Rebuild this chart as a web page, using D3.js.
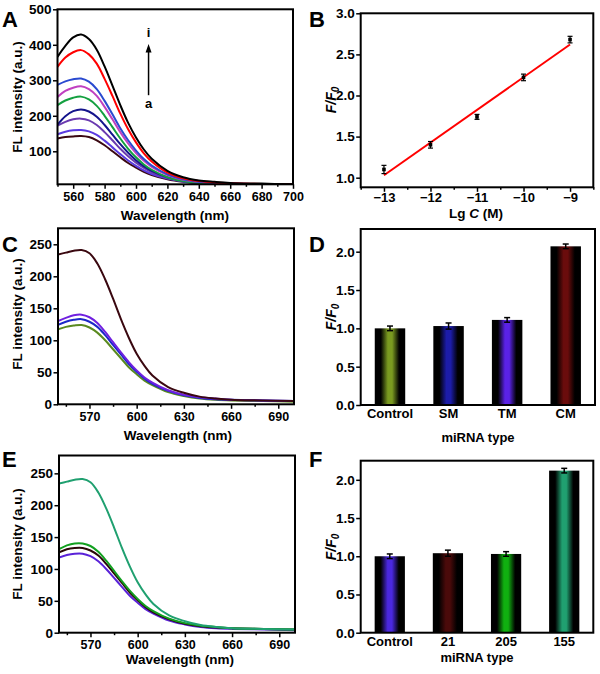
<!DOCTYPE html>
<html><head><meta charset="utf-8">
<script src="https://cdn.jsdelivr.net/npm/d3@7"></script>
<style>
body{margin:0;background:#fff}
svg{display:block}
text{font-family:"Liberation Sans",Arial,Helvetica,sans-serif;font-weight:bold;fill:#000}
</style>
</head><body>
<svg id="chart" width="600" height="674"></svg>
<script>
// ---------- DATA ----------
const wavelengths = [550,555,560,565,570,575,580,585,590,595,600,605,610,620,630,640,650,660,680,700];

// Panel A (a -> i)
const specA_a = [136,140,142,143,140,131,117,100,83,67,54,42,33,21,14,10,8,7,6,6];
const specA_b = [148,155,159,160,156,146,130,111,92,74,59,46,36,23,15,11,9,8,7,6];
const specA_c = [172,183,190,192,187,174,154,131,107,86,68,53,41,25,16,11,9,8,7,6];
const specA_d = [175,199,213,218,212,197,174,147,120,96,75,58,45,27,17,12,10,8,7,6];
const specA_e = [230,243,251,254,246,228,200,168,136,107,83,63,48,27,16,10,8,7,6,5];
const specA_f = [253,270,279,283,275,256,225,190,154,122,95,73,56,33,20,14,11,9,7,6];
const specA_g = [287,297,303,305,296,275,242,204,165,131,102,78,60,35,21,14,11,9,7,6];
const specA_h = [338,364,379,385,373,347,304,256,206,162,125,94,71,40,24,16,12,10,8,7];
const specA_i = [366,397,421,429,416,386,339,285,230,180,139,105,79,45,27,18,14,11,9,7];
const specA_names = ["a","b","c","d","e","f","g","h","i"];

// Panel B
const lgC = [-13,-12,-11,-10,-9];
const ratioB = [1.10,1.40,1.74,2.22,2.68];
const errB = [0.05,0.04,0.03,0.04,0.04];
const fitB = [1.03,2.62]; // fit values at -13 and -9

// Panel C
const specC_control = [117,121,123,124,120,112,100,86,72,58,47,37,30,19,13,9,7,6,5,4];
const specC_SM = [124,129,132,133,129,121,108,93,78,63,51,40,32,21,14,10,8,7,6,5];
const specC_TM = [130,135,139,140,136,127,113,97,81,66,53,42,34,22,15,11,9,7,6,5];
const specC_CM = [234,237,240,241,236,220,195,165,133,104,79,60,45,27,18,12,9,7,6,5];

// Panel D
const catD = ["Control","SM","TM","CM"];
const valD = [1.00,1.03,1.11,2.07];
const errD = [0.03,0.04,0.03,0.03];

// Panel E
const specE_control = [118,122,124,124,120,112,100,86,72,58,47,37,30,19,13,9,7,6,5,4];
const specE_21 = [126,131,133,133,129,121,108,93,78,63,51,40,32,21,14,10,8,7,6,5];
const specE_205 = [131,137,140,140,136,127,113,97,81,66,53,42,34,22,15,11,9,7,6,5];
const specE_155 = [234,237,240,241,236,220,195,165,133,104,79,60,45,27,18,12,9,7,6,5];

// Panel F
const catF = ["Control","21","205","155"];
const valF = [1.00,1.04,1.03,2.12];
const errF = [0.03,0.04,0.03,0.03];

// ---------- DRAW ----------
const svg = d3.select("#chart");
const defs = svg.append("defs");

function frame(g, b){
  g.append("rect").attr("x",b.x0).attr("y",b.y0).attr("width",b.x1-b.x0).attr("height",b.y1-b.y0)
    .attr("fill","none").attr("stroke","#000").attr("stroke-width",2);
}
function leftAxis(g, y, b, major, minor, fmt, fs){
  const ax = g.append("g").attr("transform",`translate(${b.x0},0)`);
  ax.call(d3.axisLeft(y).tickValues(minor).tickSize(2.5).tickFormat(""));
  ax.call(d3.axisLeft(y).tickValues(major).tickSize(4.5).tickPadding(1.5).tickFormat(fmt));
  ax.selectAll("path.domain").remove();
  ax.selectAll("line").attr("stroke-width",1.5);
  ax.selectAll("text").style("font-size",fs+"px");
}
function bottomAxis(g, x, b, major, minor, fmt, fs, pad){
  const a1 = g.append("g").attr("transform",`translate(0,${b.y1})`);
  const ax = g.append("g").attr("transform",`translate(0,${b.y1})`);
  a1.call(d3.axisBottom(x).tickValues(minor).tickSize(2.5).tickFormat(""));
  ax.call(d3.axisBottom(x).tickValues(major).tickSize(4.5).tickPadding(pad).tickFormat(fmt));
  [ax,a1].forEach(a=>{a.selectAll("path.domain").remove(); a.selectAll("line").attr("stroke-width",1.5);});
  ax.selectAll("text").style("font-size",fs+"px");
}
function panelLetter(t, x, y){
  svg.append("text").attr("x",x).attr("y",y).style("font-size","22px").text(t);
}
function yTitle(g, x, yc, t){
  g.append("text").attr("transform",`translate(${x},${yc}) rotate(-90)`).attr("text-anchor","middle")
    .style("font-size","13.5px").text(t);
}
function yTitleFF(g, x, yc){
  const t = g.append("text").attr("transform",`translate(${x},${yc}) rotate(-90)`).attr("text-anchor","middle")
    .style("font-size","14px").style("font-style","italic");
  t.append("tspan").text("F/F");
  t.append("tspan").attr("dy",3).style("font-size","10px").text("0");
}
function xTitle(g, xc, y, t, fs){
  g.append("text").attr("x",xc).attr("y",y).attr("text-anchor","middle").style("font-size",(fs||13.5)+"px").text(t);
}

let clipId = 0;
function spectrum(b, yDom, xMajor, xMinor, yMajor, yMinor, series, colors){
  const g = svg.append("g");
  const x = d3.scaleLinear().domain([550,700]).range([b.x0,b.x1]);
  const y = d3.scaleLinear().domain(yDom).range([b.y1,b.y0]);
  const id = "clip"+(clipId++);
  defs.append("clipPath").attr("id",id).append("rect")
    .attr("x",b.x0).attr("y",b.y0).attr("width",b.x1-b.x0).attr("height",b.y1-b.y0);
  const line = d3.line().x((d,i)=>x(wavelengths[i])).y(d=>y(d)).curve(d3.curveCatmullRom.alpha(0.5));
  const cg = g.append("g").attr("clip-path",`url(#${id})`);
  series.forEach((s,i)=>{
    cg.append("path").attr("d",line(s)).attr("fill","none").attr("stroke",colors[i]).attr("stroke-width",2);
  });
  leftAxis(g,y,b,yMajor,yMinor,d3.format("d"),13.5);
  bottomAxis(g,x,b,xMajor,xMinor,d3.format("d"),12.5,3);
  frame(g,b);
  return {g,x,y};
}

function barPanel(b, yMax, cats, vals, errs, colors, key){
  const g = svg.append("g");
  const x = d3.scaleBand().domain(cats).range([b.x0,b.x1]).paddingInner(0.48).paddingOuter(0.24);
  const y = d3.scaleLinear().domain([0,yMax]).range([b.y1,b.y0]);
  cats.forEach((c,i)=>{
    const gid = "grad_"+key+i;
    const lg = defs.append("linearGradient").attr("id",gid).attr("x1","0").attr("x2","1").attr("y1","0").attr("y2","0");
    [[0,"#000"],[0.2,"#000"],[0.43,colors[i]],[0.57,colors[i]],[0.8,"#000"],[1,"#000"]].forEach(s=>{
      lg.append("stop").attr("offset",s[0]).attr("stop-color",s[1]);
    });
    g.append("rect").attr("x",x(c)).attr("y",y(vals[i])).attr("width",x.bandwidth()).attr("height",y(0)-y(vals[i]))
      .attr("fill",`url(#${gid})`);
    const cx = x(c)+x.bandwidth()/2;
    g.append("line").attr("x1",cx).attr("x2",cx).attr("y1",y(vals[i]-errs[i])).attr("y2",y(vals[i]+errs[i]))
      .attr("stroke","#000").attr("stroke-width",1.5);
    [vals[i]-errs[i], vals[i]+errs[i]].forEach(v=>{
      g.append("line").attr("x1",cx-3).attr("x2",cx+3).attr("y1",y(v)).attr("y2",y(v)).attr("stroke","#000").attr("stroke-width",1.5);
    });
  });
  const yMajor = [0,0.5,1.0,1.5,2.0];
  const yMinor = [0.25,0.75,1.25,1.75].concat(yMax>2.25?[2.25]:[]);
  leftAxis(g,y,b,yMajor,yMinor,d3.format(".1f"),13.5);
  const ax = g.append("g").attr("transform",`translate(0,${b.y1})`);
  ax.call(d3.axisBottom(x).tickSize(0).tickPadding(4));
  ax.selectAll("path.domain").remove();
  ax.selectAll("text").style("font-size","13px");
  frame(g,b);
  return {g,x,y};
}

// Panel A
const bA = {x0:57.5,x1:293,y0:9.3,y1:184.3};
const colA = ["#3a0812","#5a3ae0","#6a3ab0","#14148c","#14a040","#c040c0","#2a4ad0","#ff0000","#000000"];
const pA = spectrum(bA,[7,500],[560,580,600,620,640,660,680,700],[550,570,590,610,630,650,670,690],
  [100,200,300,400,500],[50,150,250,350,450],
  [specA_a,specA_b,specA_c,specA_d,specA_e,specA_f,specA_g,specA_h,specA_i],colA);
// arrow a -> i
const arrowX = pA.x(608);
pA.g.append("line").attr("x1",arrowX).attr("x2",arrowX).attr("y1",pA.y(258)).attr("y2",pA.y(380))
  .attr("stroke","#000").attr("stroke-width",1.5);
pA.g.append("path").attr("d",`M${arrowX},${pA.y(402)} L${arrowX-3},${pA.y(378)} L${arrowX+3},${pA.y(378)} Z`).attr("fill","#000");
pA.g.append("text").attr("x",arrowX).attr("y",pA.y(422)).attr("text-anchor","middle").style("font-size","13px").text(specA_names[8]);
pA.g.append("text").attr("x",arrowX).attr("y",pA.y(222)).attr("text-anchor","middle").style("font-size","13px").text(specA_names[0]);
yTitle(pA.g,22,97,"FL intensity (a.u.)");
xTitle(pA.g,175,220,"Wavelength (nm)");
panelLetter("A",2,27);

// Panel B
const bB = {x0:360.7,x1:593.3,y0:13.3,y1:187.3};
{
  const g = svg.append("g");
  const x = d3.scaleLinear().domain([-13.5,-8.5]).range([bB.x0,bB.x1]);
  const y = d3.scaleLinear().domain([0.883,3.0]).range([bB.y1,bB.y0]);
  g.append("line").attr("x1",x(lgC[0])).attr("x2",x(lgC[4])).attr("y1",y(fitB[0])).attr("y2",y(fitB[1]))
    .attr("stroke","#ff0000").attr("stroke-width",2);
  lgC.forEach((c,i)=>{
    const cx = x(c);
    g.append("line").attr("x1",cx).attr("x2",cx).attr("y1",y(ratioB[i]-errB[i])).attr("y2",y(ratioB[i]+errB[i])).attr("stroke","#000").attr("stroke-width",1.2);
    [ratioB[i]-errB[i],ratioB[i]+errB[i]].forEach(v=>{
      g.append("line").attr("x1",cx-2.5).attr("x2",cx+2.5).attr("y1",y(v)).attr("y2",y(v)).attr("stroke","#000").attr("stroke-width",1.2);
    });
    g.append("rect").attr("x",cx-1.8).attr("y",y(ratioB[i])-1.8).attr("width",3.6).attr("height",3.6).attr("fill","#000");
  });
  leftAxis(g,y,bB,[1.0,1.5,2.0,2.5,3.0],[1.25,1.75,2.25,2.75],d3.format(".1f"),13.5);
  bottomAxis(g,x,bB,lgC,[-13.5,-12.5,-11.5,-10.5,-9.5,-8.5],d3.format("d"),13,1);
  frame(g,bB);
  yTitleFF(g,336,100);
  const t = g.append("text").attr("x",476).attr("y",218).attr("text-anchor","middle").style("font-size","13.5px");
  t.append("tspan").text("Lg ");
  t.append("tspan").style("font-style","italic").text("C");
  t.append("tspan").text(" (M)");
}
panelLetter("B",309,27);

// Panel C
const bC = {x0:58,x1:294,y0:228.3,y1:404.3};
const pC = spectrum(bC,[0,275],[570,600,630,660,690],[555,585,615,645,675],
  [0,50,100,150,200,250],[25,75,125,175,225],
  [specC_control,specC_SM,specC_TM,specC_CM],["#5a8a20","#1c28c8","#7020e0","#3a0810"]);
yTitle(pC.g,22,314,"FL intensity (a.u.)");
xTitle(pC.g,178,440,"Wavelength (nm)");
panelLetter("C",2,252);

// Panel D
const bD = {x0:360.7,x1:595,y0:229,y1:405};
const pD = barPanel(bD,2.296,catD,valD,errD,["#7a9a20","#1c1ca8","#5a22e6","#6a0c0c"],"D");
yTitleFF(pD.g,336,317);
xTitle(pD.g,478,442,"miRNA type",13);
panelLetter("D",309,252);

// Panel E
const bE = {x0:59,x1:295,y0:455.5,y1:632.7};
const pE = spectrum(bE,[0,278],[570,600,630,660,690],[555,585,615,645,675],
  [0,50,100,150,200,250],[25,75,125,175,225],
  [specE_control,specE_21,specE_205,specE_155],["#5a22d8","#2a0808","#12a020","#20a070"]);
yTitle(pE.g,22,544,"FL intensity (a.u.)");
xTitle(pE.g,180,664,"Wavelength (nm)");
panelLetter("E",2,467);

// Panel F
const bF = {x0:360.7,x1:593.3,y0:460.7,y1:632.7};
const pF = barPanel(bF,2.25,catF,valF,errF,["#4a28e0","#4a0a0a","#10b010","#20a070"],"F");
yTitleFF(pF.g,336,547);
xTitle(pF.g,477,662,"miRNA type",13);
panelLetter("F",309,467);
</script>
</body></html>
